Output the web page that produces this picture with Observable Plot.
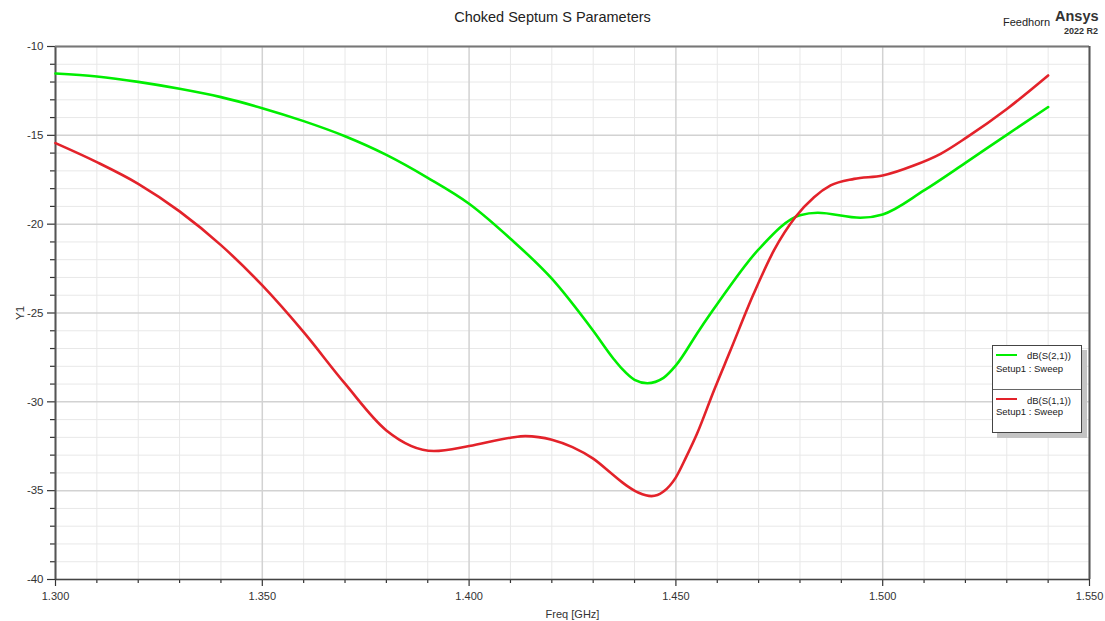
<!DOCTYPE html>
<html>
<head>
<meta charset="utf-8">
<script src="https://cdn.jsdelivr.net/npm/d3@7"></script>
<script src="https://cdn.jsdelivr.net/npm/@observablehq/plot@0.6"></script>
<style>
  html, body { margin: 0; padding: 0; background: #fff; }
  body { width: 1105px; height: 621px; position: relative; overflow: hidden; font-family: "Liberation Sans", Arial, sans-serif; }
  #chart { position: absolute; left: 0; top: 0; }
  .ov { position: absolute; white-space: nowrap; color: #222; }
  #legend { position: absolute; left: 992px; top: 345px; width: 88px; height: 86px; border: 1px solid #444; background: #fff; box-shadow: 5px 5px 0 #c4c4c4; font-size: 9.5px; color: #222; }
  #legend .sw { position: absolute; left: 3px; width: 21px; height: 2px; }
  #legend .t { position: absolute; white-space: nowrap; line-height: 1; }
  #legend .div { position: absolute; left: 0; right: 0; top: 43px; border-top: 1px solid #666; }
</style>
</head>
<body>
<div id="chart"></div>
<div class="ov" style="left:0;width:1105px;top:9px;text-align:center;font-size:14.5px;">Choked Septum S Parameters</div>
<div class="ov" style="left:1003px;top:16px;font-size:11px;">Feedhorn</div>
<div class="ov" style="left:1055px;top:8px;font-size:14.5px;font-weight:bold;color:#333;">Ansys</div>
<div class="ov" style="left:1064px;top:26px;font-size:9px;font-weight:bold;color:#333;">2022 R2</div>
<div id="legend">
  <div class="sw" style="top:8px;background:#00ee00;"></div>
  <div class="t" style="left:34px;top:5px;">dB(S(2,1))</div>
  <div class="t" style="left:3px;top:18px;">Setup1 : Sweep</div>
  <div class="div"></div>
  <div class="sw" style="top:52px;background:#e3222a;"></div>
  <div class="t" style="left:34px;top:50px;">dB(S(1,1))</div>
  <div class="t" style="left:3px;top:61px;">Setup1 : Sweep</div>
</div>
<script>
// ---- data ----
const freqS21 = [1.300,1.310,1.320,1.330,1.340,1.350,1.360,1.370,1.380,1.390,1.400,1.410,1.420,1.430,1.435,1.437,1.440,1.4431,1.447,1.450,1.4556,1.460,1.470,1.480,1.4843,1.4946,1.500,1.510,1.520,1.530,1.540];
const s21 = [-11.52,-11.69,-11.99,-12.38,-12.85,-13.47,-14.20,-15.05,-16.10,-17.39,-18.85,-20.82,-23.07,-26.00,-27.60,-28.15,-28.76,-28.95,-28.65,-27.95,-25.98,-24.50,-21.42,-19.50,-19.36,-19.64,-19.45,-18.10,-16.55,-14.97,-13.41];

const freqS11 = [1.300,1.310,1.320,1.330,1.340,1.350,1.360,1.370,1.380,1.3915,1.400,1.410,1.4136,1.420,1.425,1.430,1.435,1.438,1.441,1.4441,1.447,1.450,1.4525,1.4551,1.4592,1.4632,1.4688,1.4737,1.4789,1.4834,1.4874,1.4931,1.500,1.5075,1.514,1.5204,1.5301,1.540];
const s11 = [-15.44,-16.51,-17.73,-19.28,-21.18,-23.45,-26.08,-28.98,-31.61,-32.77,-32.49,-32.02,-31.93,-32.13,-32.55,-33.20,-34.15,-34.70,-35.12,-35.31,-35.05,-34.25,-33.10,-31.80,-29.36,-27.10,-23.92,-21.48,-19.60,-18.48,-17.82,-17.45,-17.26,-16.70,-16.04,-15.10,-13.50,-11.63];

const xMajorTicks = [1.300,1.350,1.400,1.450,1.500,1.550];
const xTickLabels = ["1.300","1.350","1.400","1.450","1.500","1.550"];
const xMinorTicks = [1.31,1.32,1.33,1.34,1.36,1.37,1.38,1.39,1.41,1.42,1.43,1.44,1.46,1.47,1.48,1.49,1.51,1.52,1.53,1.54];
const yMajorTicks = [-10,-15,-20,-25,-30,-35,-40];
const yTickLabels = ["-10","-15","-20","-25","-30","-35","-40"];
const yMinorTicks = [-11,-12,-13,-14,-16,-17,-18,-19,-21,-22,-23,-24,-26,-27,-28,-29,-31,-32,-33,-34,-36,-37,-38,-39];

const seriesNames = ["dB(S(2,1))","dB(S(1,1))"];
const seriesColors = ["#00ee00","#e3222a"];

const rowsS21 = freqS21.map((f,i)=>({f, v:s21[i], s:seriesNames[0]}));
const rowsS11 = freqS11.map((f,i)=>({f, v:s11[i], s:seriesNames[1]}));

const xFmt = d => xTickLabels[xMajorTicks.findIndex(t => Math.abs(t-d) < 1e-9)];
const yFmt = d => yTickLabels[yMajorTicks.indexOf(d)];

const chart = Plot.plot({
  width: 1105,
  height: 621,
  marginLeft: 55,
  marginRight: 16,
  marginTop: 46,
  marginBottom: 42,
  style: {fontFamily: "'Liberation Sans', Arial, sans-serif", fontSize: "11px", color: "#333", background: "#fff"},
  x: {domain: [1.3, 1.55]},
  y: {domain: [-40, -10]},
  color: {domain: seriesNames, range: seriesColors},
  marks: [
    Plot.gridX(xMinorTicks, {stroke: "#e8e8e8", strokeOpacity: 1, strokeWidth: 1}),
    Plot.gridY(yMinorTicks, {stroke: "#e8e8e8", strokeOpacity: 1, strokeWidth: 1}),
    Plot.gridX(xMajorTicks, {stroke: "#d2d2d2", strokeOpacity: 1, strokeWidth: 1.5}),
    Plot.gridY(yMajorTicks, {stroke: "#d2d2d2", strokeOpacity: 1, strokeWidth: 1.5}),
    Plot.axisX(xMinorTicks, {tickSize: 4, tickFormat: () => "", stroke: "#333", strokeWidth: 1.2, label: null}),
    Plot.axisX(xMajorTicks, {tickSize: 7, tickPadding: 6, tickFormat: xFmt, stroke: "#333", strokeWidth: 1.2, fill: "#333", fontSize: 11,
      label: "Freq [GHz]", labelAnchor: "center", labelArrow: "none", labelOffset: 38}),
    Plot.axisY(yMinorTicks, {tickSize: 5, tickFormat: () => "", stroke: "#333", strokeWidth: 1.2, label: null}),
    Plot.axisY(yMajorTicks, {tickSize: 8, tickPadding: 4, tickFormat: yFmt, stroke: "#333", strokeWidth: 1.2, fill: "#333", fontSize: 11.5,
      label: "Y1", labelAnchor: "center", labelArrow: "none", labelOffset: 40}),
    Plot.ruleX([1.3], {stroke: "#555", strokeWidth: 2}),
    Plot.ruleY([-40], {stroke: "#444", strokeWidth: 1.5}),
    Plot.ruleY([-10], {stroke: "#777", strokeWidth: 2}),
    Plot.ruleX([1.55], {stroke: "#555", strokeWidth: 2}),
    Plot.line(rowsS21, {x: "f", y: "v", stroke: "s", strokeWidth: 2.6, curve: "monotone-x"}),
    Plot.line(rowsS11, {x: "f", y: "v", stroke: "s", strokeWidth: 2.6, curve: "monotone-x"})
  ]
});
document.getElementById("chart").appendChild(chart);
</script>
</body>
</html>
